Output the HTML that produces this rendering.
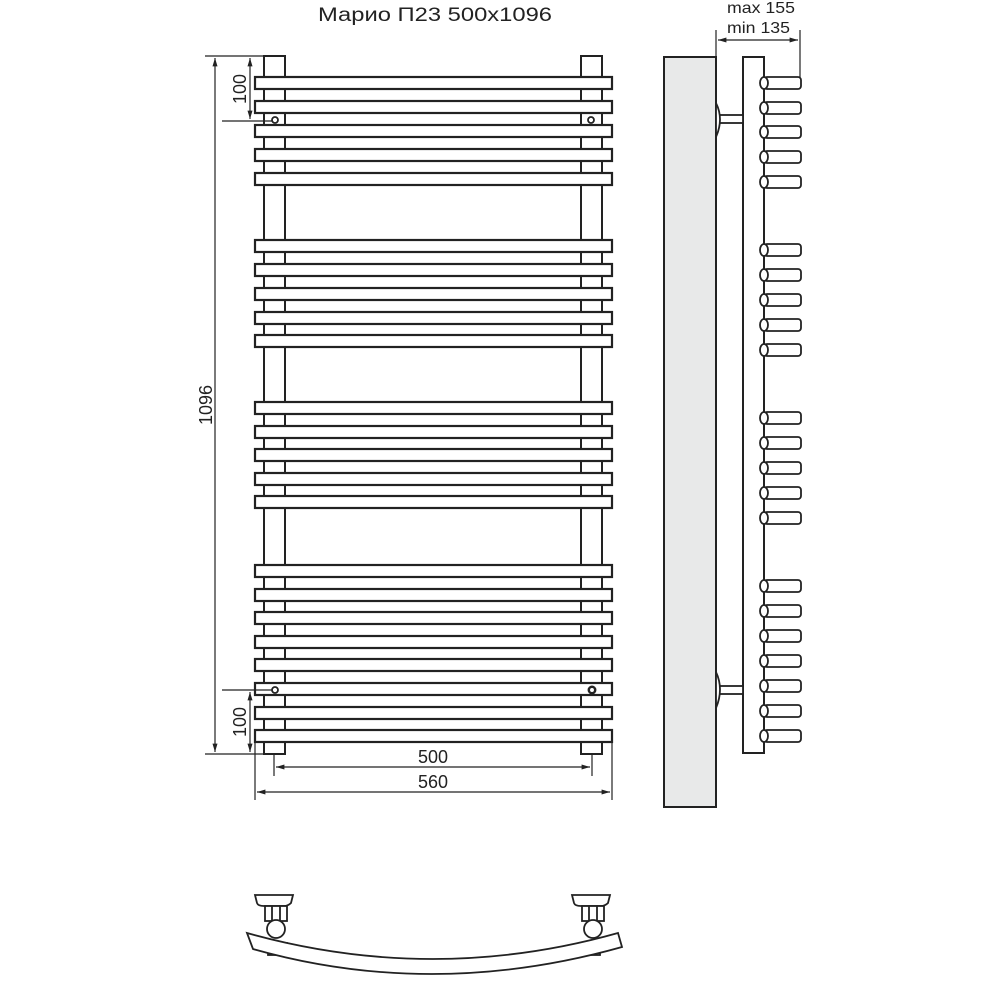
<!DOCTYPE html>
<html><head><meta charset="utf-8"><style>
html,body{margin:0;padding:0;background:#fff}
svg{display:block}
text{font-family:"Liberation Sans","Noto Sans CJK SC",sans-serif;fill:#222}
</style></head><body>
<svg width="1000" height="1000" viewBox="0 0 1000 1000">
<defs>
<marker id="a" viewBox="0 0 10 10" refX="10" refY="5" markerWidth="7" markerHeight="7" orient="auto-start-reverse"><path d="M0,2 L10,5 L0,8 z" fill="#222"/></marker>
</defs>
<text x="318" y="21" font-size="19" textLength="234" lengthAdjust="spacingAndGlyphs">Марио П23 500x1096</text>

<g stroke="#222" stroke-width="2" fill="#fff">
<rect x="264" y="56" width="21" height="698"/>
<rect x="581" y="56" width="21" height="698"/>
</g>
<g stroke="#222" stroke-width="2.2" fill="#fff">
<rect x="255" y="77" width="357" height="12"/>
<rect x="255" y="101" width="357" height="12"/>
<rect x="255" y="125" width="357" height="12"/>
<rect x="255" y="149" width="357" height="12"/>
<rect x="255" y="173" width="357" height="12"/>
<rect x="255" y="240" width="357" height="12"/>
<rect x="255" y="264" width="357" height="12"/>
<rect x="255" y="288" width="357" height="12"/>
<rect x="255" y="312" width="357" height="12"/>
<rect x="255" y="335" width="357" height="12"/>
<rect x="255" y="402" width="357" height="12"/>
<rect x="255" y="426" width="357" height="12"/>
<rect x="255" y="449" width="357" height="12"/>
<rect x="255" y="473" width="357" height="12"/>
<rect x="255" y="496" width="357" height="12"/>
<rect x="255" y="565" width="357" height="12"/>
<rect x="255" y="589" width="357" height="12"/>
<rect x="255" y="612" width="357" height="12"/>
<rect x="255" y="636" width="357" height="12"/>
<rect x="255" y="659" width="357" height="12"/>
<rect x="255" y="683" width="357" height="12"/>
<rect x="255" y="707" width="357" height="12"/>
<rect x="255" y="730" width="357" height="12"/>
</g>
<g stroke="#222" stroke-width="1.8" fill="#fff">
<circle cx="275" cy="120" r="3"/><circle cx="591" cy="120" r="3"/>
<circle cx="275" cy="690" r="3"/><circle cx="592" cy="690" r="3.2" stroke-width="2.5"/>
</g>

<g stroke="#222" stroke-width="1.2" fill="none">
<line x1="205" y1="56" x2="264" y2="56"/>
<line x1="205" y1="754" x2="264" y2="754"/>
<line x1="222" y1="121" x2="272" y2="121"/>
<line x1="222" y1="690" x2="272" y2="690"/>
<line x1="215" y1="58" x2="215" y2="752" marker-start="url(#a)" marker-end="url(#a)"/>
<line x1="250" y1="58" x2="250" y2="119" marker-start="url(#a)" marker-end="url(#a)"/>
<line x1="250" y1="692" x2="250" y2="752" marker-start="url(#a)" marker-end="url(#a)"/>
<line x1="274" y1="754" x2="274" y2="776"/>
<line x1="592" y1="754" x2="592" y2="776"/>
<line x1="255" y1="742" x2="255" y2="800"/>
<line x1="612" y1="742" x2="612" y2="800"/>
<line x1="276" y1="767" x2="590" y2="767" marker-start="url(#a)" marker-end="url(#a)"/>
<line x1="257" y1="792" x2="610" y2="792" marker-start="url(#a)" marker-end="url(#a)"/>
<line x1="716" y1="30" x2="716" y2="57"/>
<line x1="800" y1="30" x2="800" y2="77"/>
<line x1="718" y1="40" x2="798" y2="40" marker-start="url(#a)" marker-end="url(#a)"/>
</g>
<text x="0" y="0" font-size="18" text-anchor="middle" transform="translate(212,405) rotate(-90)">1096</text>
<text x="0" y="0" font-size="18" text-anchor="middle" transform="translate(246,89) rotate(-90)">100</text>
<text x="0" y="0" font-size="18" text-anchor="middle" transform="translate(246,722) rotate(-90)">100</text>
<text x="433" y="763" font-size="18" text-anchor="middle">500</text>
<text x="433" y="788" font-size="18" text-anchor="middle">560</text>
<text x="727" y="13" font-size="16" textLength="68" lengthAdjust="spacingAndGlyphs">max 155</text>
<text x="727" y="33" font-size="16" textLength="63" lengthAdjust="spacingAndGlyphs">min 135</text>

<!-- side view -->
<rect x="664" y="57" width="52" height="750" fill="#e8e9e9" stroke="#222" stroke-width="2"/>
<rect x="743" y="57" width="21" height="696" fill="#fff" stroke="#222" stroke-width="2"/>
<g stroke="#222" stroke-width="1.8" fill="#fff">
<rect x="716" y="115" width="27" height="8"/>
<path d="M716,103 Q724,119 716,137 Z"/>
<rect x="716" y="686" width="27" height="8"/>
<path d="M716,672 Q724,689 716,708 Z"/>
</g>
<g stroke="#222" stroke-width="1.8" fill="#fff">
<g transform="translate(0,83)"><rect x="764" y="-6" width="37" height="12" rx="3"/><ellipse cx="764" cy="0" rx="4" ry="6"/></g>
<g transform="translate(0,108)"><rect x="764" y="-6" width="37" height="12" rx="3"/><ellipse cx="764" cy="0" rx="4" ry="6"/></g>
<g transform="translate(0,132)"><rect x="764" y="-6" width="37" height="12" rx="3"/><ellipse cx="764" cy="0" rx="4" ry="6"/></g>
<g transform="translate(0,157)"><rect x="764" y="-6" width="37" height="12" rx="3"/><ellipse cx="764" cy="0" rx="4" ry="6"/></g>
<g transform="translate(0,182)"><rect x="764" y="-6" width="37" height="12" rx="3"/><ellipse cx="764" cy="0" rx="4" ry="6"/></g>
<g transform="translate(0,250)"><rect x="764" y="-6" width="37" height="12" rx="3"/><ellipse cx="764" cy="0" rx="4" ry="6"/></g>
<g transform="translate(0,275)"><rect x="764" y="-6" width="37" height="12" rx="3"/><ellipse cx="764" cy="0" rx="4" ry="6"/></g>
<g transform="translate(0,300)"><rect x="764" y="-6" width="37" height="12" rx="3"/><ellipse cx="764" cy="0" rx="4" ry="6"/></g>
<g transform="translate(0,325)"><rect x="764" y="-6" width="37" height="12" rx="3"/><ellipse cx="764" cy="0" rx="4" ry="6"/></g>
<g transform="translate(0,350)"><rect x="764" y="-6" width="37" height="12" rx="3"/><ellipse cx="764" cy="0" rx="4" ry="6"/></g>
<g transform="translate(0,418)"><rect x="764" y="-6" width="37" height="12" rx="3"/><ellipse cx="764" cy="0" rx="4" ry="6"/></g>
<g transform="translate(0,443)"><rect x="764" y="-6" width="37" height="12" rx="3"/><ellipse cx="764" cy="0" rx="4" ry="6"/></g>
<g transform="translate(0,468)"><rect x="764" y="-6" width="37" height="12" rx="3"/><ellipse cx="764" cy="0" rx="4" ry="6"/></g>
<g transform="translate(0,493)"><rect x="764" y="-6" width="37" height="12" rx="3"/><ellipse cx="764" cy="0" rx="4" ry="6"/></g>
<g transform="translate(0,518)"><rect x="764" y="-6" width="37" height="12" rx="3"/><ellipse cx="764" cy="0" rx="4" ry="6"/></g>
<g transform="translate(0,586)"><rect x="764" y="-6" width="37" height="12" rx="3"/><ellipse cx="764" cy="0" rx="4" ry="6"/></g>
<g transform="translate(0,611)"><rect x="764" y="-6" width="37" height="12" rx="3"/><ellipse cx="764" cy="0" rx="4" ry="6"/></g>
<g transform="translate(0,636)"><rect x="764" y="-6" width="37" height="12" rx="3"/><ellipse cx="764" cy="0" rx="4" ry="6"/></g>
<g transform="translate(0,661)"><rect x="764" y="-6" width="37" height="12" rx="3"/><ellipse cx="764" cy="0" rx="4" ry="6"/></g>
<g transform="translate(0,686)"><rect x="764" y="-6" width="37" height="12" rx="3"/><ellipse cx="764" cy="0" rx="4" ry="6"/></g>
<g transform="translate(0,711)"><rect x="764" y="-6" width="37" height="12" rx="3"/><ellipse cx="764" cy="0" rx="4" ry="6"/></g>
<g transform="translate(0,736)"><rect x="764" y="-6" width="37" height="12" rx="3"/><ellipse cx="764" cy="0" rx="4" ry="6"/></g>
</g>

<!-- bottom view -->
<g stroke="#222" stroke-width="1.8" fill="#fff">
<rect x="268" y="943" width="19" height="12"/>
<rect x="581" y="943" width="19" height="12"/>
<path d="M247,933 Q433,985 618,933 L622,947 Q433,1000 253,949 Z"/>
<g>
<path d="M255,895 L293,895 L291,903 Q288,906 284,906 L264,906 Q258,906 257,903 Z"/>
<rect x="265" y="906" width="22" height="15"/>
<line x1="272" y1="906" x2="272" y2="921"/><line x1="280" y1="906" x2="280" y2="921"/>
<circle cx="276" cy="929" r="9"/>
</g>
<g transform="translate(317,0)">
<path d="M255,895 L293,895 L291,903 Q288,906 284,906 L264,906 Q258,906 257,903 Z"/>
<rect x="265" y="906" width="22" height="15"/>
<line x1="272" y1="906" x2="272" y2="921"/><line x1="280" y1="906" x2="280" y2="921"/>
<circle cx="276" cy="929" r="9"/>
</g>
</g>
</svg>
</body></html>
